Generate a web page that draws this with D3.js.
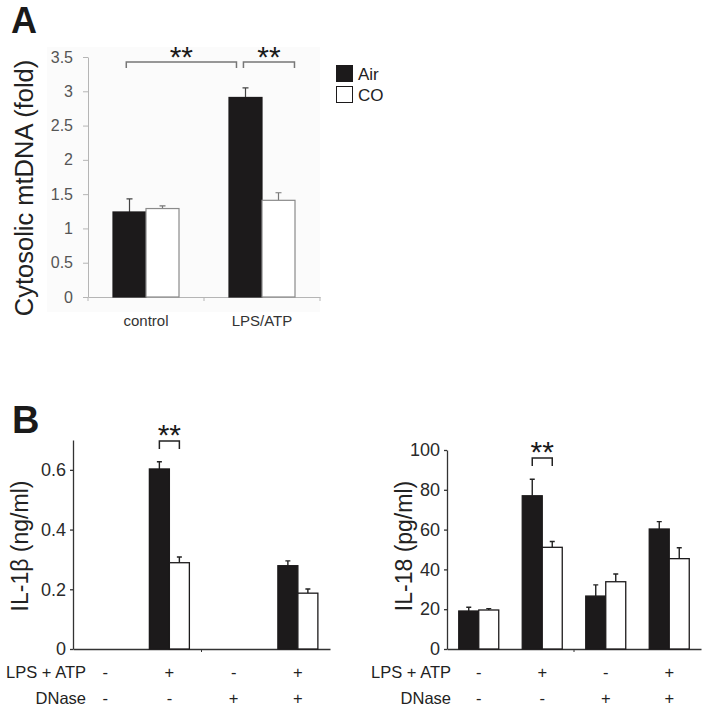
<!DOCTYPE html>
<html>
<head>
<meta charset="utf-8">
<script src="https://cdn.jsdelivr.net/npm/d3@7"></script>
<style>
  body { margin: 0; background: #fff; }
  svg { display: block; font-family: "Liberation Sans", Arial, sans-serif; }
</style>
</head>
<body>
<svg id="chart" width="702" height="713"></svg>
<script>
// ---------- DATA ----------
const seriesNames = ["Air", "CO"];

// Panel A
const categoriesA = ["control", "LPS/ATP"];
const airA = [1.24, 2.91];
const airAErr = [0.19, 0.14];
const coA = [1.29, 1.41];
const coAErr = [0.04, 0.11];
const ticksA = [0, 0.5, 1, 1.5, 2, 2.5, 3, 3.5];

// Panel B
const groupsB = [0, 1, 2, 3];
const lpsLabels = ["-", "+", "-", "+"];
const dnaseLabels = ["-", "-", "+", "+"];
const il1bAir = [0, 0.603, 0, 0.279];
const il1bAirErr = [0, 0.024, 0, 0.016];
const il1bCO = [0, 0.289, 0, 0.187];
const il1bCOErr = [0, 0.019, 0, 0.014];
const ticksIL1b = [0, 0.2, 0.4, 0.6];
const il18Air = [19.1, 77.0, 26.6, 60.3];
const il18AirErr = [1.9, 8.3, 5.6, 3.7];
const il18CO = [19.6, 51.1, 33.8, 45.4];
const il18COErr = [0.7, 2.9, 3.9, 5.5];
const ticksIL18 = [0, 20, 40, 60, 80, 100];

const svg = d3.select("#chart");
const fillFor = { Air: "#1c1a1b", CO: "#ffffff" };

// ---------- PANEL A ----------
svg.append("text").attr("x", 11).attr("y", 33).attr("font-size", 36)
  .attr("font-weight", "bold").attr("fill", "#1a1a1a").text("A");

svg.append("rect").attr("x", 47).attr("y", 47).attr("width", 273).attr("height", 265)
  .attr("fill", "#fbfbfb");

const yA = d3.scaleLinear().domain([0, 3.5]).range([297, 57]);
const xA = d3.scaleBand().domain(categoriesA).range([88, 320]);
const xAin = d3.scaleBand().domain(seriesNames).range([0, 66]);

const gA = svg.append("g");
const axA = gA.append("g").attr("transform", "translate(88,0)")
  .call(d3.axisLeft(yA).tickValues(ticksA).tickSize(5).tickSizeOuter(0).tickPadding(10)
    .tickFormat(d3.format("")));
axA.select(".domain").attr("stroke", "#b5b5b5");
axA.selectAll(".tick line").attr("stroke", "#b5b5b5");
axA.selectAll(".tick text").attr("font-size", 16).attr("fill", "#555")
  .attr("font-family", "Liberation Sans, Arial, sans-serif");

// x axis A
const xAxA = gA.append("g").attr("transform", "translate(0,297)")
  .call(d3.axisBottom(xA).tickSize(0).tickPadding(18));
xAxA.select(".domain").attr("stroke", "#b5b5b5");
xAxA.selectAll(".tick text").attr("font-size", 15).attr("fill", "#333")
  .attr("font-family", "Liberation Sans, Arial, sans-serif");
// category boundary ticks
gA.selectAll(".bnd").data([xA.range()[0], xA(categoriesA[1]), xA.range()[1]]).enter()
  .append("line").attr("x1", d => d).attr("x2", d => d).attr("y1", 297).attr("y2", 301)
  .attr("stroke", "#b5b5b5");

const dataA = [];
categoriesA.forEach((c, i) => {
  dataA.push({ cat: c, s: "Air", v: airA[i], e: airAErr[i] });
  dataA.push({ cat: c, s: "CO", v: coA[i], e: coAErr[i] });
});
const offA = (xA.bandwidth() - 66) / 2;
function barXA(d) { return xA(d.cat) + offA + xAin(d.s); }

// error bars A
gA.selectAll(".errA").data(dataA).enter().append("path")
  .attr("d", d => {
    const cx = barXA(d) + xAin.bandwidth() / 2;
    return `M${cx},${yA(d.v)}V${yA(d.v + d.e)}M${cx - 3},${yA(d.v + d.e)}H${cx + 3}`;
  })
  .attr("stroke", d => d.s === "Air" ? "#444" : "#777").attr("stroke-width", 1.2).attr("fill", "none");

gA.selectAll(".barA").data(dataA).enter().append("rect")
  .attr("x", barXA).attr("width", xAin.bandwidth())
  .attr("y", d => yA(d.v)).attr("height", d => yA(0) - yA(d.v))
  .attr("fill", d => fillFor[d.s])
  .attr("stroke", d => d.s === "Air" ? "#1c1a1b" : "#8a8a8a").attr("stroke-width", 1.2);

// significance brackets A
function bracket(g, x1, x2, y, leg, color, starY, size) {
  g.append("path").attr("d", `M${x1},${y + leg}V${y}H${x2}V${y + leg}`)
    .attr("fill", "none").attr("stroke", color).attr("stroke-width", 1.5);
  g.append("text").attr("x", (x1 + x2) / 2).attr("y", starY).attr("text-anchor", "middle")
    .attr("font-size", size).attr("fill", "#1a1a1a").text("**");
}
const bwA = xA.bandwidth();
bracket(gA, xA("control") + bwA * 0.33, xA("LPS/ATP") + bwA * 0.28, 62, 6, "#777", 67, 30);
bracket(gA, xA("LPS/ATP") + bwA * 0.34, xA("LPS/ATP") + bwA * 0.78, 62, 6, "#777", 67, 30);

// y label A
svg.append("text").attr("transform", "translate(33,188) rotate(-90)")
  .attr("text-anchor", "middle").attr("font-size", 25.5).attr("fill", "#222")
  .text("Cytosolic mtDNA (fold)");

// legend A
const legA = svg.append("g").attr("transform", "translate(336,65)");
seriesNames.forEach((s, i) => {
  legA.append("rect").attr("x", 0.5).attr("y", i * 21 + 0.5).attr("width", 16).attr("height", 16)
    .attr("fill", fillFor[s]).attr("stroke", "#1c1a1b").attr("stroke-width", 1);
  legA.append("text").attr("x", 22).attr("y", i * 21 + 15).attr("font-size", 17)
    .attr("fill", "#222").text(s);
});

// ---------- PANEL B ----------
svg.append("text").attr("x", 12).attr("y", 433).attr("font-size", 38)
  .attr("font-weight", "bold").attr("fill", "#1a1a1a").text("B");

function panelB(opts) {
  const g = svg.append("g");
  const y = d3.scaleLinear().domain(opts.domain).range([649, opts.top]);
  const outer = d3.scaleBand().domain(["-", "+"]).range([opts.x0, opts.x1]);
  const inner = d3.scalePoint().domain(["-", "+"]).range([0, outer.bandwidth()]).padding(0.5);
  const sub = d3.scaleBand().domain(seriesNames).range([-20, 20]);
  const cx = i => outer(dnaseLabels[i]) + inner(lpsLabels[i]);

  const ax = g.append("g").attr("transform", `translate(${opts.x0},0)`)
    .call(d3.axisLeft(y).tickValues(opts.ticks).tickSize(3).tickSizeOuter(0).tickPadding(4)
      .tickFormat(opts.fmt));
  ax.select(".domain").attr("stroke", "#333").attr("stroke-width", 1.3);
  ax.selectAll(".tick line").attr("stroke", "#333").attr("stroke-width", 1.3);
  ax.selectAll(".tick text").attr("font-size", 18).attr("fill", "#2a2a2a")
    .attr("font-family", "Liberation Sans, Arial, sans-serif");

  const xa = g.append("g").attr("transform", "translate(0,649)")
    .call(d3.axisBottom(outer).tickSize(0).tickFormat(""));
  xa.select(".domain").attr("stroke", "#333").attr("stroke-width", 1.3);
  g.append("line").attr("x1", outer("+")).attr("x2", outer("+")).attr("y1", 649).attr("y2", 652)
    .attr("stroke", "#333");

  const data = [];
  groupsB.forEach(i => {
    if (opts.air[i] > 0) data.push({ i, s: "Air", v: opts.air[i], e: opts.airErr[i] });
    if (opts.co[i] > 0) data.push({ i, s: "CO", v: opts.co[i], e: opts.coErr[i] });
  });
  g.selectAll(".err").data(data).enter().append("path")
    .attr("d", d => {
      const x = cx(d.i) + sub(d.s) + sub.bandwidth() / 2;
      return `M${x},${y(d.v)}V${y(d.v + d.e)}M${x - 2.5},${y(d.v + d.e)}H${x + 2.5}`;
    })
    .attr("stroke", "#222").attr("stroke-width", 1.4).attr("fill", "none");
  g.selectAll(".bar").data(data).enter().append("rect")
    .attr("x", d => cx(d.i) + sub(d.s)).attr("width", sub.bandwidth())
    .attr("y", d => y(d.v)).attr("height", d => y(0) - y(d.v))
    .attr("fill", d => fillFor[d.s]).attr("stroke", "#1c1a1b").attr("stroke-width", 1.3);

  // significance bracket on group 1 (LPS+ATP, no DNase)
  const bx = cx(1);
  const by = opts.brY;
  g.append("path").attr("d", `M${bx - 10},${by + 8}V${by}H${bx + 10}V${by + 8}`)
    .attr("fill", "none").attr("stroke", "#222").attr("stroke-width", 1.5);
  g.append("text").attr("x", bx).attr("y", by + 4).attr("text-anchor", "middle")
    .attr("font-size", 30).attr("fill", "#1a1a1a").text("**");

  // condition rows
  g.append("text").attr("x", opts.x0 + opts.rowDx).attr("y", 678).attr("text-anchor", "end")
    .attr("font-size", 16.5).attr("fill", "#222").text("LPS + ATP");
  g.append("text").attr("x", opts.x0 + opts.rowDx).attr("y", 704).attr("text-anchor", "end")
    .attr("font-size", 16.5).attr("fill", "#222").text("DNase");
  g.selectAll(".lps").data(groupsB).enter().append("text")
    .attr("x", i => cx(i)).attr("y", 678).attr("text-anchor", "middle")
    .attr("font-size", 16.5).attr("fill", "#222").text(i => lpsLabels[i]);
  g.selectAll(".dn").data(groupsB).enter().append("text")
    .attr("x", i => cx(i)).attr("y", 704).attr("text-anchor", "middle")
    .attr("font-size", 16.5).attr("fill", "#222").text(i => dnaseLabels[i]);

  g.append("text").attr("transform", `translate(${opts.labX},546) rotate(-90)`)
    .attr("text-anchor", "middle").attr("font-size", 23).attr("fill", "#222").text(opts.label);
}

panelB({
  domain: [0, 0.7], top: 440, x0: 73, x1: 330, ticks: ticksIL1b,
  fmt: d => d === 0 ? "0" : d3.format(".1f")(d),
  air: il1bAir, airErr: il1bAirErr, co: il1bCO, coErr: il1bCOErr,
  brY: 441, labX: 28, label: "IL-1β (ng/ml)", rowDx: 13
});
panelB({
  domain: [0, 100], top: 450, x0: 447, x1: 701, ticks: ticksIL18,
  fmt: d3.format("d"),
  air: il18Air, airErr: il18AirErr, co: il18CO, coErr: il18COErr,
  brY: 458, labX: 412, label: "IL-18 (pg/ml)", rowDx: 4
});
</script>
</body>
</html>
